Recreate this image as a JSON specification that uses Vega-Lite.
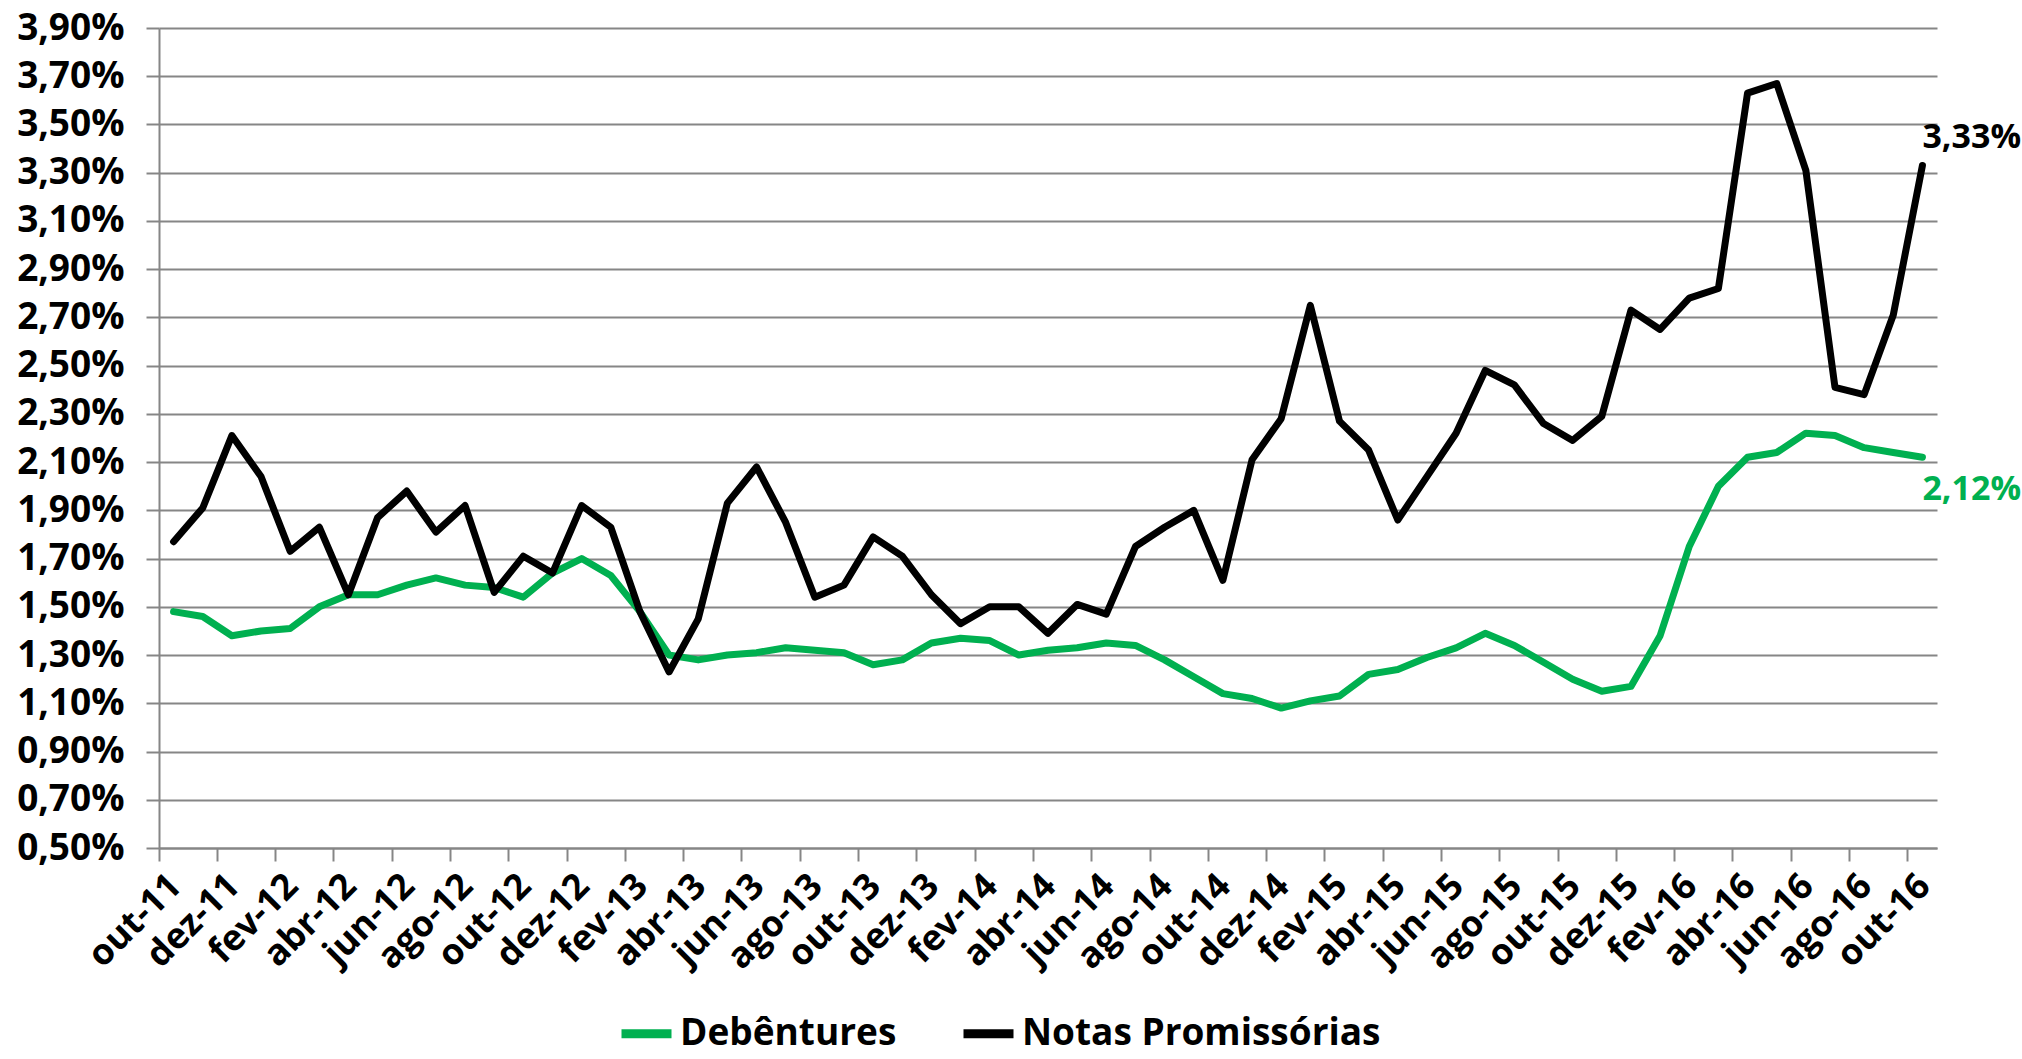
{
  "$schema": "https://vega.github.io/schema/vega-lite/v6.json",
  "width": 1778,
  "height": 820,
  "autosize": {"type": "none"},
  "padding": {"left": 159, "top": 28, "right": 85, "bottom": 211},
  "background": "white",
  "config": {
    "locale": {"number": {"decimal": ",", "thousands": ".", "grouping": [3], "currency": ["R$", ""]}},
    "view": {"stroke": null},
    "font": "Open Sans"
  },
  "data": {"values": [
    {"mes": "out-11", "serie": "Debêntures", "valor": 0.0148},
    {"mes": "nov-11", "serie": "Debêntures", "valor": 0.0146},
    {"mes": "dez-11", "serie": "Debêntures", "valor": 0.0138},
    {"mes": "jan-12", "serie": "Debêntures", "valor": 0.0140},
    {"mes": "fev-12", "serie": "Debêntures", "valor": 0.0141},
    {"mes": "mar-12", "serie": "Debêntures", "valor": 0.0150},
    {"mes": "abr-12", "serie": "Debêntures", "valor": 0.0155},
    {"mes": "mai-12", "serie": "Debêntures", "valor": 0.0155},
    {"mes": "jun-12", "serie": "Debêntures", "valor": 0.0159},
    {"mes": "jul-12", "serie": "Debêntures", "valor": 0.0162},
    {"mes": "ago-12", "serie": "Debêntures", "valor": 0.0159},
    {"mes": "set-12", "serie": "Debêntures", "valor": 0.0158},
    {"mes": "out-12", "serie": "Debêntures", "valor": 0.0154},
    {"mes": "nov-12", "serie": "Debêntures", "valor": 0.0164},
    {"mes": "dez-12", "serie": "Debêntures", "valor": 0.0170},
    {"mes": "jan-13", "serie": "Debêntures", "valor": 0.0163},
    {"mes": "fev-13", "serie": "Debêntures", "valor": 0.0148},
    {"mes": "mar-13", "serie": "Debêntures", "valor": 0.0130},
    {"mes": "abr-13", "serie": "Debêntures", "valor": 0.0128},
    {"mes": "mai-13", "serie": "Debêntures", "valor": 0.0130},
    {"mes": "jun-13", "serie": "Debêntures", "valor": 0.0131},
    {"mes": "jul-13", "serie": "Debêntures", "valor": 0.0133},
    {"mes": "ago-13", "serie": "Debêntures", "valor": 0.0132},
    {"mes": "set-13", "serie": "Debêntures", "valor": 0.0131},
    {"mes": "out-13", "serie": "Debêntures", "valor": 0.0126},
    {"mes": "nov-13", "serie": "Debêntures", "valor": 0.0128},
    {"mes": "dez-13", "serie": "Debêntures", "valor": 0.0135},
    {"mes": "jan-14", "serie": "Debêntures", "valor": 0.0137},
    {"mes": "fev-14", "serie": "Debêntures", "valor": 0.0136},
    {"mes": "mar-14", "serie": "Debêntures", "valor": 0.0130},
    {"mes": "abr-14", "serie": "Debêntures", "valor": 0.0132},
    {"mes": "mai-14", "serie": "Debêntures", "valor": 0.0133},
    {"mes": "jun-14", "serie": "Debêntures", "valor": 0.0135},
    {"mes": "jul-14", "serie": "Debêntures", "valor": 0.0134},
    {"mes": "ago-14", "serie": "Debêntures", "valor": 0.0128},
    {"mes": "set-14", "serie": "Debêntures", "valor": 0.0121},
    {"mes": "out-14", "serie": "Debêntures", "valor": 0.0114},
    {"mes": "nov-14", "serie": "Debêntures", "valor": 0.0112},
    {"mes": "dez-14", "serie": "Debêntures", "valor": 0.0108},
    {"mes": "jan-15", "serie": "Debêntures", "valor": 0.0111},
    {"mes": "fev-15", "serie": "Debêntures", "valor": 0.0113},
    {"mes": "mar-15", "serie": "Debêntures", "valor": 0.0122},
    {"mes": "abr-15", "serie": "Debêntures", "valor": 0.0124},
    {"mes": "mai-15", "serie": "Debêntures", "valor": 0.0129},
    {"mes": "jun-15", "serie": "Debêntures", "valor": 0.0133},
    {"mes": "jul-15", "serie": "Debêntures", "valor": 0.0139},
    {"mes": "ago-15", "serie": "Debêntures", "valor": 0.0134},
    {"mes": "set-15", "serie": "Debêntures", "valor": 0.0127},
    {"mes": "out-15", "serie": "Debêntures", "valor": 0.0120},
    {"mes": "nov-15", "serie": "Debêntures", "valor": 0.0115},
    {"mes": "dez-15", "serie": "Debêntures", "valor": 0.0117},
    {"mes": "jan-16", "serie": "Debêntures", "valor": 0.0138},
    {"mes": "fev-16", "serie": "Debêntures", "valor": 0.0175},
    {"mes": "mar-16", "serie": "Debêntures", "valor": 0.0200},
    {"mes": "abr-16", "serie": "Debêntures", "valor": 0.0212},
    {"mes": "mai-16", "serie": "Debêntures", "valor": 0.0214},
    {"mes": "jun-16", "serie": "Debêntures", "valor": 0.0222},
    {"mes": "jul-16", "serie": "Debêntures", "valor": 0.0221},
    {"mes": "ago-16", "serie": "Debêntures", "valor": 0.0216},
    {"mes": "set-16", "serie": "Debêntures", "valor": 0.0214},
    {"mes": "out-16", "serie": "Debêntures", "valor": 0.0212},
    {"mes": "out-11", "serie": "Notas Promissórias", "valor": 0.0177},
    {"mes": "nov-11", "serie": "Notas Promissórias", "valor": 0.0191},
    {"mes": "dez-11", "serie": "Notas Promissórias", "valor": 0.0221},
    {"mes": "jan-12", "serie": "Notas Promissórias", "valor": 0.0204},
    {"mes": "fev-12", "serie": "Notas Promissórias", "valor": 0.0173},
    {"mes": "mar-12", "serie": "Notas Promissórias", "valor": 0.0183},
    {"mes": "abr-12", "serie": "Notas Promissórias", "valor": 0.0155},
    {"mes": "mai-12", "serie": "Notas Promissórias", "valor": 0.0187},
    {"mes": "jun-12", "serie": "Notas Promissórias", "valor": 0.0198},
    {"mes": "jul-12", "serie": "Notas Promissórias", "valor": 0.0181},
    {"mes": "ago-12", "serie": "Notas Promissórias", "valor": 0.0192},
    {"mes": "set-12", "serie": "Notas Promissórias", "valor": 0.0156},
    {"mes": "out-12", "serie": "Notas Promissórias", "valor": 0.0171},
    {"mes": "nov-12", "serie": "Notas Promissórias", "valor": 0.0164},
    {"mes": "dez-12", "serie": "Notas Promissórias", "valor": 0.0192},
    {"mes": "jan-13", "serie": "Notas Promissórias", "valor": 0.0183},
    {"mes": "fev-13", "serie": "Notas Promissórias", "valor": 0.0148},
    {"mes": "mar-13", "serie": "Notas Promissórias", "valor": 0.0123},
    {"mes": "abr-13", "serie": "Notas Promissórias", "valor": 0.0145},
    {"mes": "mai-13", "serie": "Notas Promissórias", "valor": 0.0193},
    {"mes": "jun-13", "serie": "Notas Promissórias", "valor": 0.0208},
    {"mes": "jul-13", "serie": "Notas Promissórias", "valor": 0.0185},
    {"mes": "ago-13", "serie": "Notas Promissórias", "valor": 0.0154},
    {"mes": "set-13", "serie": "Notas Promissórias", "valor": 0.0159},
    {"mes": "out-13", "serie": "Notas Promissórias", "valor": 0.0179},
    {"mes": "nov-13", "serie": "Notas Promissórias", "valor": 0.0171},
    {"mes": "dez-13", "serie": "Notas Promissórias", "valor": 0.0155},
    {"mes": "jan-14", "serie": "Notas Promissórias", "valor": 0.0143},
    {"mes": "fev-14", "serie": "Notas Promissórias", "valor": 0.0150},
    {"mes": "mar-14", "serie": "Notas Promissórias", "valor": 0.0150},
    {"mes": "abr-14", "serie": "Notas Promissórias", "valor": 0.0139},
    {"mes": "mai-14", "serie": "Notas Promissórias", "valor": 0.0151},
    {"mes": "jun-14", "serie": "Notas Promissórias", "valor": 0.0147},
    {"mes": "jul-14", "serie": "Notas Promissórias", "valor": 0.0175},
    {"mes": "ago-14", "serie": "Notas Promissórias", "valor": 0.0183},
    {"mes": "set-14", "serie": "Notas Promissórias", "valor": 0.0190},
    {"mes": "out-14", "serie": "Notas Promissórias", "valor": 0.0161},
    {"mes": "nov-14", "serie": "Notas Promissórias", "valor": 0.0211},
    {"mes": "dez-14", "serie": "Notas Promissórias", "valor": 0.0228},
    {"mes": "jan-15", "serie": "Notas Promissórias", "valor": 0.0275},
    {"mes": "fev-15", "serie": "Notas Promissórias", "valor": 0.0227},
    {"mes": "mar-15", "serie": "Notas Promissórias", "valor": 0.0215},
    {"mes": "abr-15", "serie": "Notas Promissórias", "valor": 0.0186},
    {"mes": "mai-15", "serie": "Notas Promissórias", "valor": 0.0204},
    {"mes": "jun-15", "serie": "Notas Promissórias", "valor": 0.0222},
    {"mes": "jul-15", "serie": "Notas Promissórias", "valor": 0.0248},
    {"mes": "ago-15", "serie": "Notas Promissórias", "valor": 0.0242},
    {"mes": "set-15", "serie": "Notas Promissórias", "valor": 0.0226},
    {"mes": "out-15", "serie": "Notas Promissórias", "valor": 0.0219},
    {"mes": "nov-15", "serie": "Notas Promissórias", "valor": 0.0229},
    {"mes": "dez-15", "serie": "Notas Promissórias", "valor": 0.0273},
    {"mes": "jan-16", "serie": "Notas Promissórias", "valor": 0.0265},
    {"mes": "fev-16", "serie": "Notas Promissórias", "valor": 0.0278},
    {"mes": "mar-16", "serie": "Notas Promissórias", "valor": 0.0282},
    {"mes": "abr-16", "serie": "Notas Promissórias", "valor": 0.0363},
    {"mes": "mai-16", "serie": "Notas Promissórias", "valor": 0.0367},
    {"mes": "jun-16", "serie": "Notas Promissórias", "valor": 0.0331},
    {"mes": "jul-16", "serie": "Notas Promissórias", "valor": 0.0241},
    {"mes": "ago-16", "serie": "Notas Promissórias", "valor": 0.0238},
    {"mes": "set-16", "serie": "Notas Promissórias", "valor": 0.0271},
    {"mes": "out-16", "serie": "Notas Promissórias", "valor": 0.0333}
  ]},
  "encoding": {
    "x": {
      "field": "mes", "type": "ordinal", "sort": null,
      "scale": {"type": "band", "paddingInner": 0, "paddingOuter": 0},
      "axis": {
        "title": null,
        "values": ["out-11","dez-11","fev-12","abr-12","jun-12","ago-12","out-12","dez-12","fev-13","abr-13","jun-13","ago-13","out-13","dez-13","fev-14","abr-14","jun-14","ago-14","out-14","dez-14","fev-15","abr-15","jun-15","ago-15","out-15","dez-15","fev-16","abr-16","jun-16","ago-16","out-16"],
        "bandPosition": 0,
        "labelOffset": 2,
        "labelAngle": -45,
        "labelAlign": "right",
        "labelBaseline": "middle",
        "labelFont": "Open Sans",
        "labelFontSize": 36,
        "labelFontWeight": "bold",
        "labelColor": "#000000",
        "labelPadding": 19,
        "labelOverlap": false,
        "labelBound": false,
        "labelFlush": false,
        "tickColor": "#868686",
        "tickWidth": 2,
        "tickSize": 13,
        "domainColor": "#868686",
        "domainWidth": 2,
        "grid": false
      }
    },
    "y": {
      "field": "valor", "type": "quantitative",
      "scale": {"domain": [0.005, 0.039], "nice": false, "zero": false},
      "axis": {
        "title": null,
        "values": [0.005,0.007,0.009,0.011,0.013,0.015,0.017,0.019,0.021,0.023,0.025,0.027,0.029,0.031,0.033,0.035,0.037,0.039],
        "format": ".2%",
        "labelFont": "Open Sans",
        "labelFontSize": 37,
        "labelFontWeight": "bold",
        "labelColor": "#000000",
        "labelPadding": 22,
        "tickColor": "#868686",
        "tickWidth": 2,
        "tickSize": 13,
        "domainColor": "#868686",
        "domainWidth": 2,
        "grid": true,
        "gridColor": "#868686",
        "gridWidth": 2
      }
    }
  },
  "layer": [
    {
      "mark": {"type": "line", "strokeWidth": 7, "strokeCap": "round", "strokeJoin": "round"},
      "encoding": {
        "color": {
          "field": "serie", "type": "nominal",
          "scale": {"domain": ["Debêntures", "Notas Promissórias"], "range": ["#00B050", "#000000"]},
          "legend": {
            "title": null,
            "orient": "none",
            "direction": "horizontal",
            "legendX": 458,
            "legendY": 976,
            "symbolType": "stroke",
            "symbolStrokeWidth": 9,
            "symbolSize": 2500,
            "labelFont": "Open Sans",
            "labelFontSize": 37,
            "labelFontWeight": "bold",
            "labelColor": "#000000",
            "labelLimit": 800,
            "labelOffset": 4,
            "columnPadding": 48
          }
        }
      }
    },
    {
      "transform": [{"filter": "datum.mes === 'out-16' && datum.serie === 'Notas Promissórias'"}],
      "mark": {"type": "text", "align": "left", "baseline": "middle", "dx": 0, "dy": -27, "font": "Open Sans", "fontSize": 34, "fontWeight": "bold", "color": "#000000"},
      "encoding": {"text": {"field": "valor", "type": "quantitative", "format": ".2%"}}
    },
    {
      "transform": [{"filter": "datum.mes === 'out-16' && datum.serie === 'Debêntures'"}],
      "mark": {"type": "text", "align": "left", "baseline": "middle", "dx": 0, "dy": 33, "font": "Open Sans", "fontSize": 34, "fontWeight": "bold", "color": "#00B050"},
      "encoding": {"text": {"field": "valor", "type": "quantitative", "format": ".2%"}}
    }
  ]
}
